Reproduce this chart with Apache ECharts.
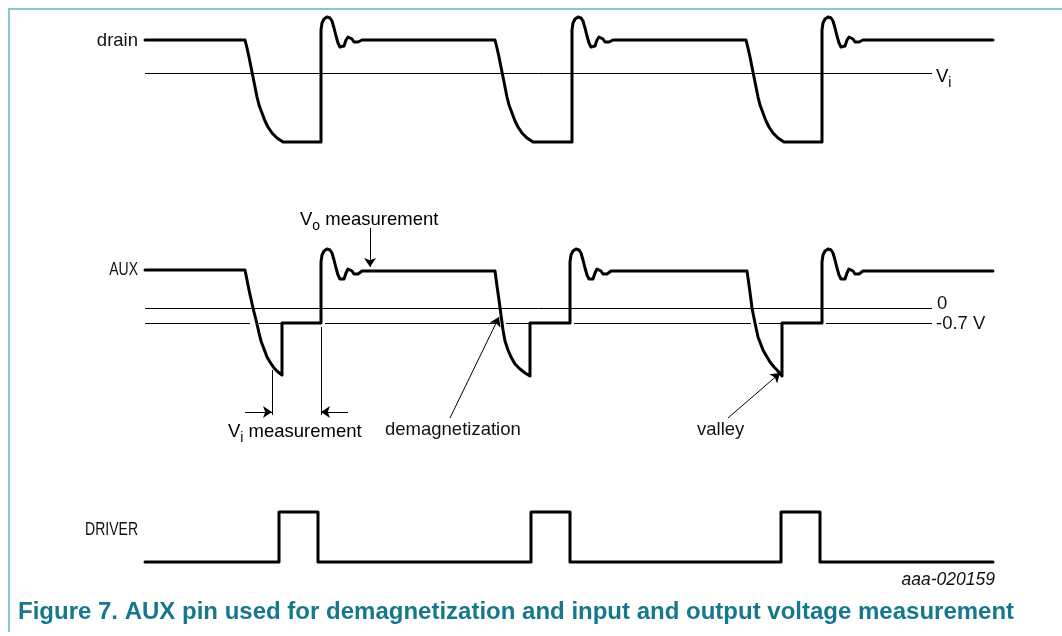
<!DOCTYPE html>
<html>
<head>
<meta charset="utf-8">
<script src="https://cdn.jsdelivr.net/npm/echarts@6/dist/echarts.min.js"></script>
<style>
    html, body { margin: 0; padding: 0; background: #fff; }
    #chart { width: 1062px; height: 636px; }
</style>
</head>
<body>
<div id="chart"></div>
<script>
// waveforms as [time, level] (level axis runs downward)
var drainWave = [
    [145,40],[245,40],
    [247,48],[249,57],[251,67],[253,77],[255,87],[257,97],[259,105],[262,113],[265,121],[268,127],[272,133],[277,138],[283,142],
    [321,142],[321,30],
    [322,23],[324,19],[327,17],[330,18],[332,21],[334,28],[336,36],[338,43],[340,47],[342,48],[344,46],[346,40],[348,37],[350,37],[352,39],[354,42],[356,43],[358,42],[360,40],[362,40],
    [495,40],
    [497,48],[499,57],[501,67],[503,77],[505,87],[507,97],[509,105],[512,113],[515,121],[518,127],[522,133],[527,138],[533,142],
    [572,142],[572,30],
    [573,23],[575,19],[578,17],[581,18],[583,21],[585,28],[587,36],[589,43],[591,47],[593,48],[595,46],[597,40],[599,37],[601,37],[603,39],[605,42],[607,43],[609,42],[611,40],[613,40],
    [746,40],
    [748,48],[750,57],[752,67],[754,77],[756,87],[758,97],[760,105],[763,113],[766,121],[769,127],[773,133],[778,138],[784,142],
    [822,142],[822,30],
    [823,23],[825,19],[828,17],[831,18],[833,21],[835,28],[837,36],[839,43],[841,47],[843,48],[845,46],[847,40],[849,37],[851,37],[853,39],[855,42],[857,43],[859,42],[861,40],[863,40],
    [993,40]
];

var auxWave = [
    [145,270],[245,270],
    [247,280],[249,290],[251,299],[253,308],[255,316],[257,324],[259,333],[261,341],[264,349],[267,357],[270,362],[274,368],[278,372],[282,375],
    [282,323],[321,323],[321,262],
    [322,255],[324,251],[327,249],[330,250],[332,253],[334,260],[336,268],[338,275],[340,279],[342,281],[344,279],[346,273],[348,269],[350,269],[352,271],[354,274],[356,275],[358,274],[360,272],[362,271],
    [495,271],
    [497,286],[499,300],[501,315],[503,330],[505,341],[508,350],[511,357],[515,364],[520,369],[525,373],[530,376],
    [530,323],[570,323],[570,262],
    [571,255],[573,251],[576,249],[579,250],[581,253],[583,260],[585,268],[587,275],[589,279],[591,281],[593,279],[595,273],[597,269],[599,269],[601,271],[603,274],[605,275],[607,274],[609,272],[611,271],
    [747,271],
    [749,285],[751,300],[752,308],[755,323],[758,337],[763,350],[767,357],[770,362],[774,367],[777,370],[782,376],
    [782,323],[822,323],[822,262],
    [823,255],[825,251],[828,249],[831,250],[833,253],[835,260],[837,268],[839,275],[841,279],[843,281],[845,279],[847,273],[849,269],[851,269],[853,271],[855,274],[857,275],[859,274],[861,272],[863,271],
    [993,271]
];

var driverWave = [
    [145,562],[279,562],[279,512],[318,512],[318,562],
    [531,562],[531,512],[570,512],[570,562],
    [781,562],[781,512],[820,512],[820,562],
    [993,562]
];

// thin reference levels: Vi (drain), 0 and -0.7 V (aux)
var refLines = [
    [[145,73],[932,73]],
    [[145,308],[932,308]],
    [[145,323],[250,323]], [[259,323],[281,323]], [[325,323],[498,323]],
    [[506,323],[529,323]], [[574,323],[751,323]], [[759,323],[781,323]], [[826,323],[932,323]],
    [[272,370],[272,415]],
    [[321,327],[321,415]]
];

// annotation arrows [from, to]
var arrows = [
    [[370,228],[370,267]],
    [[245,412],[272,412]],
    [[348,412],[321,412]],
    [[450,418],[499,317]],
    [[728,418],[780,373]]
];

var FONT = '"Liberation Sans", Arial, sans-serif';

var chart = echarts.init(document.getElementById('chart'), null, { renderer: 'canvas' });

function waveSeries(name, data) {
    return {
        name: name,
        type: 'line',
        data: data,
        showSymbol: false,
        silent: true,
        z: 5,
        lineStyle: { color: '#000', width: 3, join: 'round', cap: 'round' }
    };
}

function label(text, x, y, align, extra) {
    var st = {
        text: text, x: x, y: y,
        fill: '#111',
        font: '18.5px ' + FONT,
        textAlign: align || 'left',
        textVerticalAlign: 'middle'
    };
    if (extra) { for (var k in extra) st[k] = extra[k]; }
    return { type: 'text', silent: true, style: st };
}

// signal names in capitals are set a little narrower in the figure
function signalName(text, y) {
    var el = label(text, 0, 0, 'right', { font: '17.5px ' + FONT });
    el.x = 138; el.y = y; el.scaleX = 0.8;
    return el;
}

var subRich = {
    v: { fontSize: 18.5, fontFamily: FONT, lineHeight: 26, verticalAlign: 'middle', color: '#111' },
    s: { fontSize: 14, fontFamily: FONT, lineHeight: 14, verticalAlign: 'bottom', color: '#111' }
};

chart.setOption({
    animation: false,
    backgroundColor: '#fff',
    grid: { left: 0, right: 0, top: 0, bottom: 0 },
    xAxis: { type: 'value', min: 0, max: 1062, show: false },
    yAxis: { type: 'value', min: 0, max: 636, inverse: true, show: false },
    series: [
        waveSeries('drain', drainWave),
        waveSeries('AUX', auxWave),
        waveSeries('DRIVER', driverWave),
        {
            name: 'levels',
            type: 'lines',
            coordinateSystem: 'cartesian2d',
            silent: true,
            z: 3,
            lineStyle: { color: '#000', width: 1, opacity: 1 },
            data: refLines.map(function (c) { return { coords: c }; })
        },
        {
            name: 'arrows',
            type: 'lines',
            coordinateSystem: 'cartesian2d',
            silent: true,
            z: 4,
            symbol: ['none', 'arrow'],
            symbolSize: 9,
            lineStyle: { color: '#000', width: 1, opacity: 1 },
            data: arrows.map(function (c) { return { coords: c }; })
        }
    ],
    graphic: [
        // figure frame
        { type: 'polyline', silent: true, shape: { points: [[9, 632], [9, 9], [1062, 9]] },
          style: { stroke: '#8cc7cf', lineWidth: 2, fill: null } },
        label('drain', 138, 41, 'right'),
        signalName('AUX', 270),
        signalName('DRIVER', 530),
        label('0', 937, 304),
        label('-0.7 V', 936, 324),
        { type: 'text', silent: true, style: { text: '{v|V}{s|i}', x: 936, y: 77, textAlign: 'left', textVerticalAlign: 'middle', rich: subRich } },
        { type: 'text', silent: true, style: { text: '{v|V}{s|o}{v| measurement}', x: 300, y: 220, textAlign: 'left', textVerticalAlign: 'middle', rich: subRich } },
        { type: 'text', silent: true, style: { text: '{v|V}{s|i}{v| measurement}', x: 228, y: 432, textAlign: 'left', textVerticalAlign: 'middle', rich: subRich } },
        label('demagnetization', 385, 430),
        label('valley', 697, 430),
        label('aaa-020159', 995, 580, 'right', { font: 'italic 17.5px ' + FONT }),
        label('Figure 7. AUX pin used for demagnetization and input and output voltage measurement', 18, 612, 'left',
              { font: 'bold 24px ' + FONT, fill: '#17788d' })
    ]
});
</script>
</body>
</html>
